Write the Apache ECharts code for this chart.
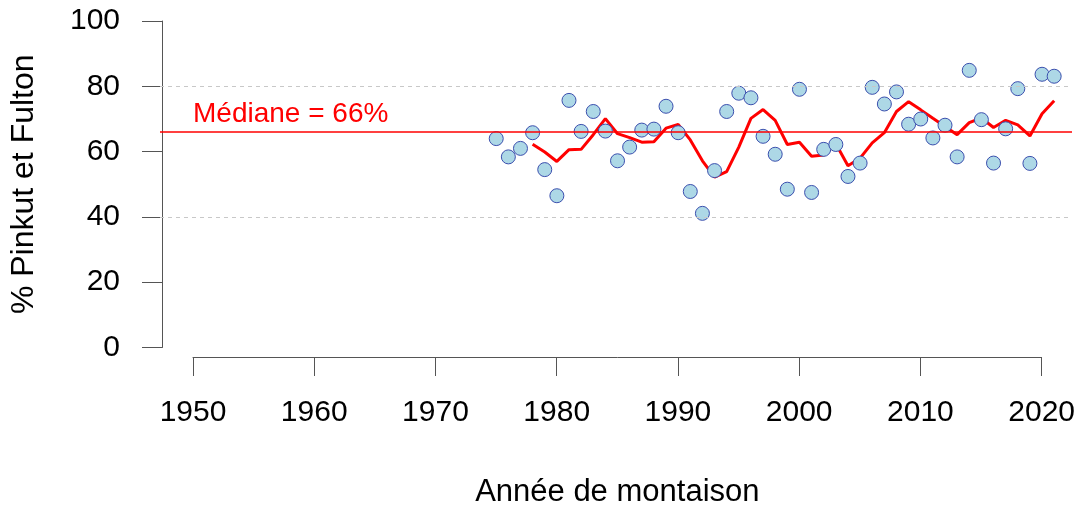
<!DOCTYPE html>
<html>
<head>
<meta charset="utf-8">
<script src="https://cdn.jsdelivr.net/npm/echarts@6/dist/echarts.min.js"></script>
<style>
  html, body { margin: 0; padding: 0; background: #fff; }
  #chart { width: 1078px; height: 513px; }
</style>
</head>
<body>
<div id="chart"></div>
<script>
// Spawning year
const years = [1975, 1976, 1977, 1978, 1979, 1980, 1981, 1982, 1983, 1984,
  1985, 1986, 1987, 1988, 1989, 1990, 1991, 1992, 1993, 1994,
  1995, 1996, 1997, 1998, 1999, 2000, 2001, 2002, 2003, 2004,
  2005, 2006, 2007, 2008, 2009, 2010, 2011, 2012, 2013, 2014,
  2015, 2016, 2017, 2018, 2019, 2020, 2021];

// % of spawners in Pinkut and Fulton
const pct = [64.0, 58.4, 61.0, 65.8, 54.5, 46.5, 75.7, 66.2, 72.3, 66.3,
  57.2, 61.4, 66.6, 66.9, 73.9, 65.8, 47.8, 41.1, 54.2, 72.3,
  77.9, 76.5, 64.7, 59.2, 48.5, 79.1, 47.5, 60.7, 62.2, 52.4,
  56.5, 79.7, 74.6, 78.3, 68.4, 70.0, 64.2, 68.1, 58.4, 84.9,
  69.8, 56.5, 67.0, 79.3, 56.4, 83.7, 83.1];

// 4-year running mean, from 1978 onward
const meanYears = years.slice(3);
const runMean = [62.3, 59.9, 57.0, 60.6, 60.7, 65.2, 70.1, 65.5, 64.3, 62.9,
  63.0, 67.2, 68.3, 63.6, 57.2, 52.2, 53.9, 61.4, 70.2, 72.9,
  69.6, 62.2, 62.9, 58.6, 59.0, 62.4, 55.7, 58.0, 62.7, 65.8,
  72.3, 75.3, 72.8, 70.2, 67.7, 65.2, 68.9, 70.3, 67.4, 69.6,
  68.2, 64.8, 71.6, 75.6];

const median = 66;
const gridValues = [40, 80];
const xTicks = [1950, 2020, 10];
const yTicks = [0, 100, 20];

const FONT = '"Liberation Sans", Arial, sans-serif';
const AXIS_COLOR = '#555';

const chart = echarts.init(document.getElementById('chart'), null, { renderer: 'canvas' });

chart.setOption({
  animation: false,
  backgroundColor: '#fff',
  grid: [
    // plotting region
    { left: 160, right: 6, top: 8, bottom: 152.4 },
    // x axis (spans only the labelled years)
    { left: 193, right: 35, top: 8, bottom: 152.4 },
    // y axis (spans only 0-100)
    { left: 160, right: 6, top: 21, bottom: 165.5 }
  ],
  xAxis: [
    { gridIndex: 0, type: 'value', min: 1947.28, max: 2022.47, show: false },
    {
      gridIndex: 1, type: 'value', min: xTicks[0], max: xTicks[1], interval: xTicks[2],
      name: 'Année de montaison', nameLocation: 'middle', nameGap: 120,
      nameTextStyle: { fontFamily: FONT, fontSize: 31, color: '#000' },
      axisLine: { show: true, lineStyle: { color: AXIS_COLOR, width: 1 } },
      axisTick: { show: true, inside: false, length: 19, lineStyle: { color: AXIS_COLOR, width: 1 } },
      axisLabel: {
        margin: 41, fontFamily: FONT, fontSize: 30, color: '#000',
        formatter: v => String(v)
      },
      splitLine: { show: false }
    },
    { gridIndex: 2, type: 'value', min: 0, max: 1, show: false }
  ],
  yAxis: [
    { gridIndex: 0, type: 'value', min: -4, max: 104, show: false },
    { gridIndex: 1, type: 'value', min: 0, max: 1, show: false },
    {
      gridIndex: 2, type: 'value', min: yTicks[0], max: yTicks[1], interval: yTicks[2],
      name: '% Pinkut et Fulton', nameLocation: 'middle', nameGap: 122, nameRotate: 90,
      nameTextStyle: { fontFamily: FONT, fontSize: 32, color: '#000' },
      axisLine: { show: true, lineStyle: { color: AXIS_COLOR, width: 1 } },
      axisTick: { show: true, inside: false, length: 20, lineStyle: { color: AXIS_COLOR, width: 1 } },
      axisLabel: { margin: 42, fontFamily: FONT, fontSize: 30, color: '#000' },
      splitLine: { show: false }
    }
  ],
  series: [
    {
      // reference lines: dashed grid and the median
      type: 'line', xAxisIndex: 0, yAxisIndex: 0, data: [],
      silent: true,
      markLine: {
        symbol: 'none', silent: true, animation: false,
        data: gridValues.map(v => ({
          yAxis: v,
          lineStyle: { color: '#c8c8c8', type: [4, 4], width: 1 },
          label: { show: false }
        })).concat([{
          yAxis: median,
          lineStyle: { color: '#ff0000', type: 'solid', width: 1.5 },
          label: {
            show: true, position: 'insideStartTop', formatter: 'Médiane = ' + median + '%',
            fontFamily: FONT, fontSize: 28, color: '#ff0000', distance: [33, 4]
          }
        }])
      }
    },
    {
      type: 'line', xAxisIndex: 0, yAxisIndex: 0,
      data: meanYears.map((y, i) => [y, runMean[i]]),
      showSymbol: false, symbol: 'none',
      lineStyle: { color: '#ff0000', width: 3 },
      z: 3
    },
    {
      type: 'scatter', xAxisIndex: 0, yAxisIndex: 0,
      data: years.map((y, i) => [y, pct[i]]),
      symbol: 'circle', symbolSize: 14,
      itemStyle: { color: '#add8e6', borderColor: '#3b4fae', borderWidth: 1, opacity: 1 },
      z: 4
    }
  ]
});
</script>
</body>
</html>
